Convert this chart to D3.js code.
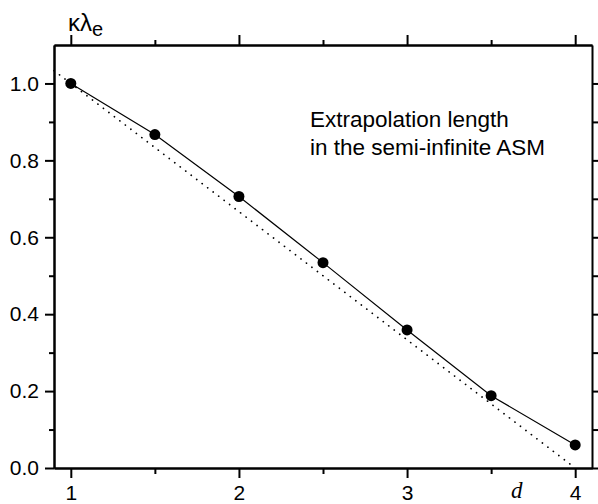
<!DOCTYPE html>
<html>
<head>
<meta charset="utf-8">
<script src="https://cdn.jsdelivr.net/npm/d3@7"></script>
<style>
  body { margin: 0; background: #fff; }
  text { font-family: "Liberation Sans", Arial, sans-serif; fill: #000; }
</style>
</head>
<body>
<svg id="chart" width="598" height="504"></svg>
<script>
// data
var dValues = [1, 1.5, 2, 2.5, 3, 3.5, 4];
var kLambda = [1.0, 0.867, 0.706, 0.534, 0.359, 0.188, 0.06];
// dotted reference line end points
var refD = [0.9, 4];
var refK = [1.0333, 0];

var xMajor = [1, 2, 3, 4];
var xMinor = [1.5, 2.5, 3.5];
var yMajor = [0, 0.2, 0.4, 0.6, 0.8, 1.0];
var yMinor = [0.1, 0.3, 0.5, 0.7, 0.9];
var noteLines = ["Extrapolation length", "in the semi-infinite ASM"];

var svg = d3.select("#chart");
var m = {left: 54, right: 592, top: 45, bottom: 468};

var x = d3.scaleLinear().domain([0.9, 4.1]).range([m.left, m.right]);
var y = d3.scaleLinear().domain([0, 1.1]).range([m.bottom, m.top]);

function styleAxis(g) {
    g.select(".domain").attr("stroke", "#000").attr("stroke-width", 2);
    g.selectAll(".tick line").attr("stroke", "#000").attr("stroke-width", 2);
    g.selectAll(".tick text")
        .attr("font-size", 21).attr("fill", "#000");
}

// bottom
svg.append("g").attr("transform", "translate(0," + m.bottom + ")")
    .call(d3.axisBottom(x).tickValues(xMajor).tickSize(10).tickSizeOuter(0)
        .tickPadding(7).tickFormat(d3.format("d")))
    .call(styleAxis);
svg.append("g").attr("transform", "translate(0," + m.bottom + ")")
    .call(d3.axisBottom(x).tickValues(xMinor).tickSize(6).tickSizeOuter(0).tickFormat(""))
    .call(styleAxis);

// top
svg.append("g").attr("transform", "translate(0," + m.top + ")")
    .call(d3.axisTop(x).tickValues(xMajor).tickSize(10).tickSizeOuter(0).tickFormat(""))
    .call(styleAxis);
svg.append("g").attr("transform", "translate(0," + m.top + ")")
    .call(d3.axisTop(x).tickValues(xMinor).tickSize(5).tickSizeOuter(0).tickFormat(""))
    .call(styleAxis);

// left
svg.append("g").attr("transform", "translate(" + m.left + ",0)")
    .call(d3.axisLeft(y).tickValues(yMajor).tickSize(9).tickSizeOuter(0)
        .tickPadding(6).tickFormat(d3.format(".1f")))
    .call(styleAxis);
svg.append("g").attr("transform", "translate(" + m.left + ",0)")
    .call(d3.axisLeft(y).tickValues(yMinor).tickSize(5).tickSizeOuter(0).tickFormat(""))
    .call(styleAxis);

// right
svg.append("g").attr("transform", "translate(" + m.right + ",0)")
    .call(d3.axisRight(y).tickValues(yMajor.concat(yMinor)).tickSize(6).tickSizeOuter(0).tickFormat(""))
    .call(styleAxis);

// dotted reference line
var refPts = refD.map(function(d, i) { return [d, refK[i]]; });
svg.append("path")
    .datum(refPts)
    .attr("fill", "none")
    .attr("stroke", "#000")
    .attr("stroke-width", 1.7)
    .attr("stroke-linecap", "round")
    .attr("stroke-dasharray", "0.1,6.8")
    .attr("d", d3.line().x(d => x(d[0])).y(d => y(d[1])));

// solid line + dots
var pts = dValues.map(function(d, i) { return [d, kLambda[i]]; });
svg.append("path")
    .datum(pts)
    .attr("fill", "none")
    .attr("stroke", "#000")
    .attr("stroke-width", 1.2)
    .attr("d", d3.line().x(d => x(d[0])).y(d => y(d[1])));

svg.selectAll("circle.pt").data(pts).enter()
    .append("circle")
    .attr("class", "pt")
    .attr("cx", d => x(d[0]))
    .attr("cy", d => y(d[1]))
    .attr("r", 5.5)
    .attr("fill", "#000");

// axis titles
var yTitle = svg.append("text")
    .attr("x", 68).attr("y", 31)
    .attr("font-size", 24);
yTitle.append("tspan").text("κλ");
yTitle.append("tspan").attr("dy", 5).attr("font-size", 20).text("e");

svg.append("text")
    .attr("x", 511).attr("y", 498)
    .style("font-family", "'Liberation Serif', 'Times New Roman', serif")
    .attr("font-style", "italic")
    .attr("font-size", 23)
    .text("d");

// annotation
svg.selectAll("text.note").data(noteLines).enter()
    .append("text")
    .attr("class", "note")
    .attr("x", 310)
    .attr("y", (d, i) => 127 + i * 28)
    .attr("font-size", 22.5)
    .text(d => d);
</script>
</body>
</html>
